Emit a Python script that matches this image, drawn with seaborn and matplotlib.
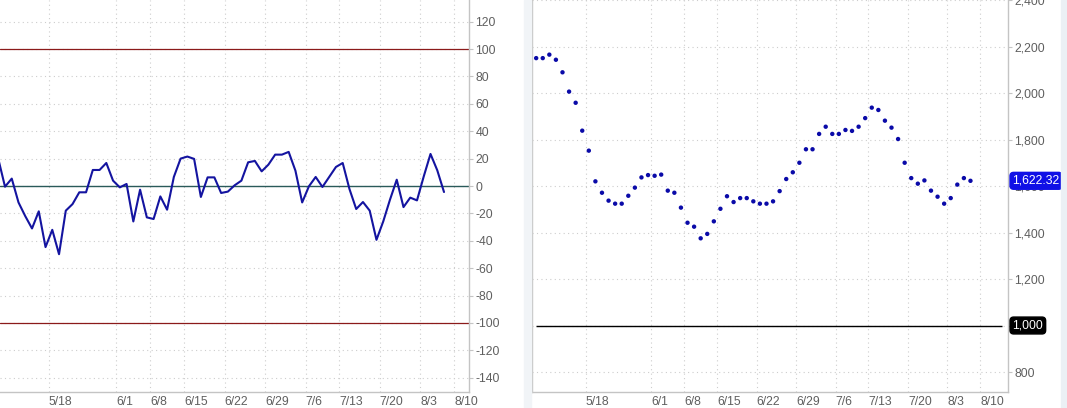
import numpy as np
import pandas as pd
import seaborn as sns
import matplotlib
matplotlib.use("Agg")
import matplotlib.pyplot as plt
from matplotlib import ticker

# oscillator (left panel), one value per bar
osc_values = [20, -0.5, 5.4, -12, -22, -31, -18.5, -44.6, -32, -49.8,
              -18, -13.2, -4.6, -4.6, 11.7, 11.7, 16.8, 3.9, -1, 1.5,
              -25.9, -2.7, -22.9, -24.1, -7.6, -17.3, 6.6, 20, 21.5, 19.8,
              -8, 6.3, 6.3, -5.1, -4.1, 0.5, 3.9, 17.3, 18.3, 10.7,
              15.6, 22.9, 22.9, 24.9, 11.2, -12, -0.2, 6.6, -0.7, 6.6,
              13.9, 16.8, -2.2, -16.8, -11.7, -18, -39.3, -25.9, -10, 4.6,
              -15.4, -8.5, -10.5, 7, 23.4, 11.5, -4.4]

# price dots (right panel)
price_values = [2150, 2150, 2165, 2143, 2089, 2006, 1958, 1838, 1752, 1620,
                1571, 1537, 1524, 1524, 1558, 1593, 1637, 1647, 1644, 1649,
                1580, 1571, 1507, 1442, 1425, 1375, 1394, 1448, 1502, 1556,
                1531, 1548, 1548, 1534, 1524, 1524, 1534, 1578, 1630, 1659,
                1700, 1758, 1758, 1824, 1855, 1824, 1824, 1841, 1837, 1855,
                1892, 1937, 1927, 1881, 1851, 1802, 1700, 1634, 1610, 1624,
                1580, 1554, 1524, 1548, 1606, 1634, 1622.32]

tick_labels = ["5/18", "6/1", "6/8", "6/15", "6/22", "6/29", "7/6", "7/13",
               "7/20", "8/3", "8/10"]
tick_pos = [7.5, 17.5, 22.5, 27.5, 33.5, 39.5, 45.5, 50.5, 56.5, 62.5, 67.5]

osc_levels = [100, 0, -100]
base_level = 1000
last_price = price_values[-1]

df = pd.DataFrame({"bar": np.arange(len(osc_values)),
                   "osc": osc_values,
                   "price": price_values})

sns.set_style("white")
plt.rcParams["font.family"] = ["Liberation Sans", "DejaVu Sans"]

W, H = 1067, 408
fig = plt.figure(figsize=(W / 100, H / 100), dpi=100)
fig.patch.set_facecolor("white")

# pale separator strips
fig.patches.append(plt.Rectangle((524 / W, 0), 7 / W, 1, transform=fig.transFigure,
                                 color="#f1f4f7", zorder=0))
fig.patches.append(plt.Rectangle((1061 / W, 0), 6 / W, 1, transform=fig.transFigure,
                                 color="#ebf0f5", zorder=0))

bottom = (H - 392) / H
ax1 = fig.add_axes([0, bottom, 469 / W, 1 - bottom])
ax2 = fig.add_axes([531.7 / W, bottom, (1008.3 - 531.7) / W, 1 - bottom])

grid_kw = dict(color="#cdcdcd", linestyle=(0, (1, 3)), linewidth=0.8)
axis_col = "#c4c4c4"
txt_col = "#5f5f5f"

def style_axis(ax, ylim, xlim, yticks, fmt):
    ax.set_xlim(*xlim)
    ax.set_ylim(*ylim)
    ax.yaxis.tick_right()
    ax.set_yticks(yticks)
    ax.yaxis.set_major_formatter(fmt)
    ax.set_xticks(tick_pos)
    ax.set_xticklabels(tick_labels, ha="left")
    ax.tick_params(axis="x", length=0, pad=3, labelsize=8.8, colors=txt_col)
    ax.tick_params(axis="y", length=3, width=0.8, color=axis_col, pad=1.5,
                   labelsize=8.8, labelcolor=txt_col)
    ax.grid(True, **grid_kw)
    ax.set_axisbelow(True)
    ax.spines["top"].set_visible(False)
    for s in ["left", "right", "bottom"]:
        ax.spines[s].set_color(axis_col)
        ax.spines[s].set_linewidth(1)
    ax.set_xlabel("")
    ax.set_ylabel("")

# left: oscillator line
ax1.axhline(osc_levels[0], color="#8b1a1a", linewidth=0.9, zorder=2)
ax1.axhline(osc_levels[2], color="#8b1a1a", linewidth=0.9, zorder=2)
ax1.axhline(osc_levels[1], color="#2a5a5a", linewidth=1.0, zorder=2)
sns.lineplot(data=df, x="bar", y="osc", ax=ax1, color="#1414a0", linewidth=1.5,
             zorder=3)
style_axis(ax1, (-150.4, 135.8), (0.26, 69.7), np.arange(-140, 121, 20),
           ticker.FuncFormatter(lambda v, p: f"{v:.0f}"))
ax1.spines["left"].set_visible(False)

# right: price dots
ax2.hlines(base_level, 0, 70.8, color="black", linewidth=1.0, zorder=2)
sns.scatterplot(data=df, x="bar", y="price", ax=ax2, color="#0a0aa8", s=10,
                edgecolor="none", zorder=3)
style_axis(ax2, (714, 2400), (-0.68, 71.75), np.arange(800, 2401, 200),
           ticker.FuncFormatter(lambda v, p: f"{v:,.0f}"))

ax2.annotate(f"{last_price:,.2f}", xy=(1, last_price),
             xycoords=("axes fraction", "data"), xytext=(3, 0),
             textcoords="offset points", va="center", ha="left",
             fontsize=8.8, color="white", annotation_clip=False, zorder=10,
             bbox=dict(boxstyle="round,pad=0.2,rounding_size=0.3",
                       fc="#1010e6", ec="#1010e6"))
ax2.annotate(f"{base_level:,.0f}", xy=(1, base_level),
             xycoords=("axes fraction", "data"), xytext=(3, 0),
             textcoords="offset points", va="center", ha="left",
             fontsize=8.8, color="white", annotation_clip=False, zorder=10,
             bbox=dict(boxstyle="round,pad=0.2,rounding_size=0.3",
                       fc="black", ec="black"))

fig.savefig("out.png", dpi=100, facecolor=fig.get_facecolor())
